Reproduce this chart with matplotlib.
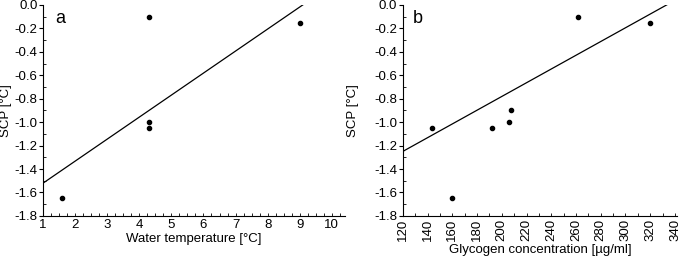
import numpy as np
import matplotlib
matplotlib.use("Agg")
import matplotlib.pyplot as plt
from matplotlib.ticker import MultipleLocator

plt.rcParams['font.family'] = ['Liberation Sans', 'DejaVu Sans']

# panel a: water temperature vs SCP
temp = [1.6, 4.3, 4.3, 4.3, 9.0]
scp_a = [-1.65, -0.1, -1.0, -1.05, -0.15]
fit_a_x = [1.0, 10.0]
fit_a_y = [-1.52, 0.17]

# panel b: glycogen vs SCP
glyc = [144, 160, 192, 205.5, 207.5, 262, 319.5]
scp_b = [-1.05, -1.65, -1.05, -1.0, -0.9, -0.1, -0.15]
fit_b_x = [120, 340]
fit_b_y = [-1.25, 0.04]

yticks = [-1.8, -1.6, -1.4, -1.2, -1.0, -0.8, -0.6, -0.4, -0.2, 0.0]
ytick_labels = ["-1.8", "-1.6", "-1.4", "-1.2", "-1.0", "-0.8", "-0.6", "-0.4", "-0.2", "0.0"]

fig = plt.figure(figsize=(6.85, 2.62), dpi=100)
ax1 = fig.add_axes([0.063, 0.176, 0.44, 0.805])
ax2 = fig.add_axes([0.588, 0.176, 0.401, 0.805])

for ax in (ax1, ax2):
    for s in ('top', 'right'):
        ax.spines[s].set_visible(False)
    ax.set_ylim(-1.8, 0.0)
    ax.set_yticks(yticks)
    ax.set_yticklabels(ytick_labels)
    ax.yaxis.set_minor_locator(MultipleLocator(0.1))
    ax.tick_params(axis='y', which='major', direction='out', length=3, width=0.8, labelsize=9.5, pad=1)
    ax.tick_params(axis='y', which='minor', direction='in', length=2, width=0.6)
    ax.tick_params(axis='x', which='both', direction='in', length=2, width=0.6, labelsize=9.5, pad=2)

# a
ax1.plot(temp, scp_a, 'o', color='black', markersize=3)
ax1.plot(fit_a_x, fit_a_y, color='black', linewidth=0.9)
ax1.set_xlim(1, 10.4)
ax1.set_xticks(range(1, 11))
ax1.xaxis.set_minor_locator(MultipleLocator(0.25))
ax1.set_xlabel("Water temperature [°C]", fontsize=9.5, labelpad=2)
ax1.set_ylabel("SCP [°C]", fontsize=9.5, labelpad=2)
ax1.text(0.04, 0.975, "a", transform=ax1.transAxes, fontsize=13, va='top')

# b
ax2.plot(glyc, scp_b, 'o', color='black', markersize=3)
ax2.plot(fit_b_x, fit_b_y, color='black', linewidth=0.9)
ax2.set_xlim(120, 342)
ax2.xaxis.set_major_locator(MultipleLocator(20))
ax2.xaxis.set_minor_locator(MultipleLocator(10))
ax2.tick_params(axis='x', which='major', labelrotation=90)
ax2.set_xlabel("Glycogen concentration [µg/ml]", fontsize=9.5, labelpad=2)
ax2.set_ylabel("SCP [°C]", fontsize=9.5, labelpad=11)
ax2.text(0.036, 0.975, "b", transform=ax2.transAxes, fontsize=13, va='top')

fig.savefig("out.png", dpi=100)
